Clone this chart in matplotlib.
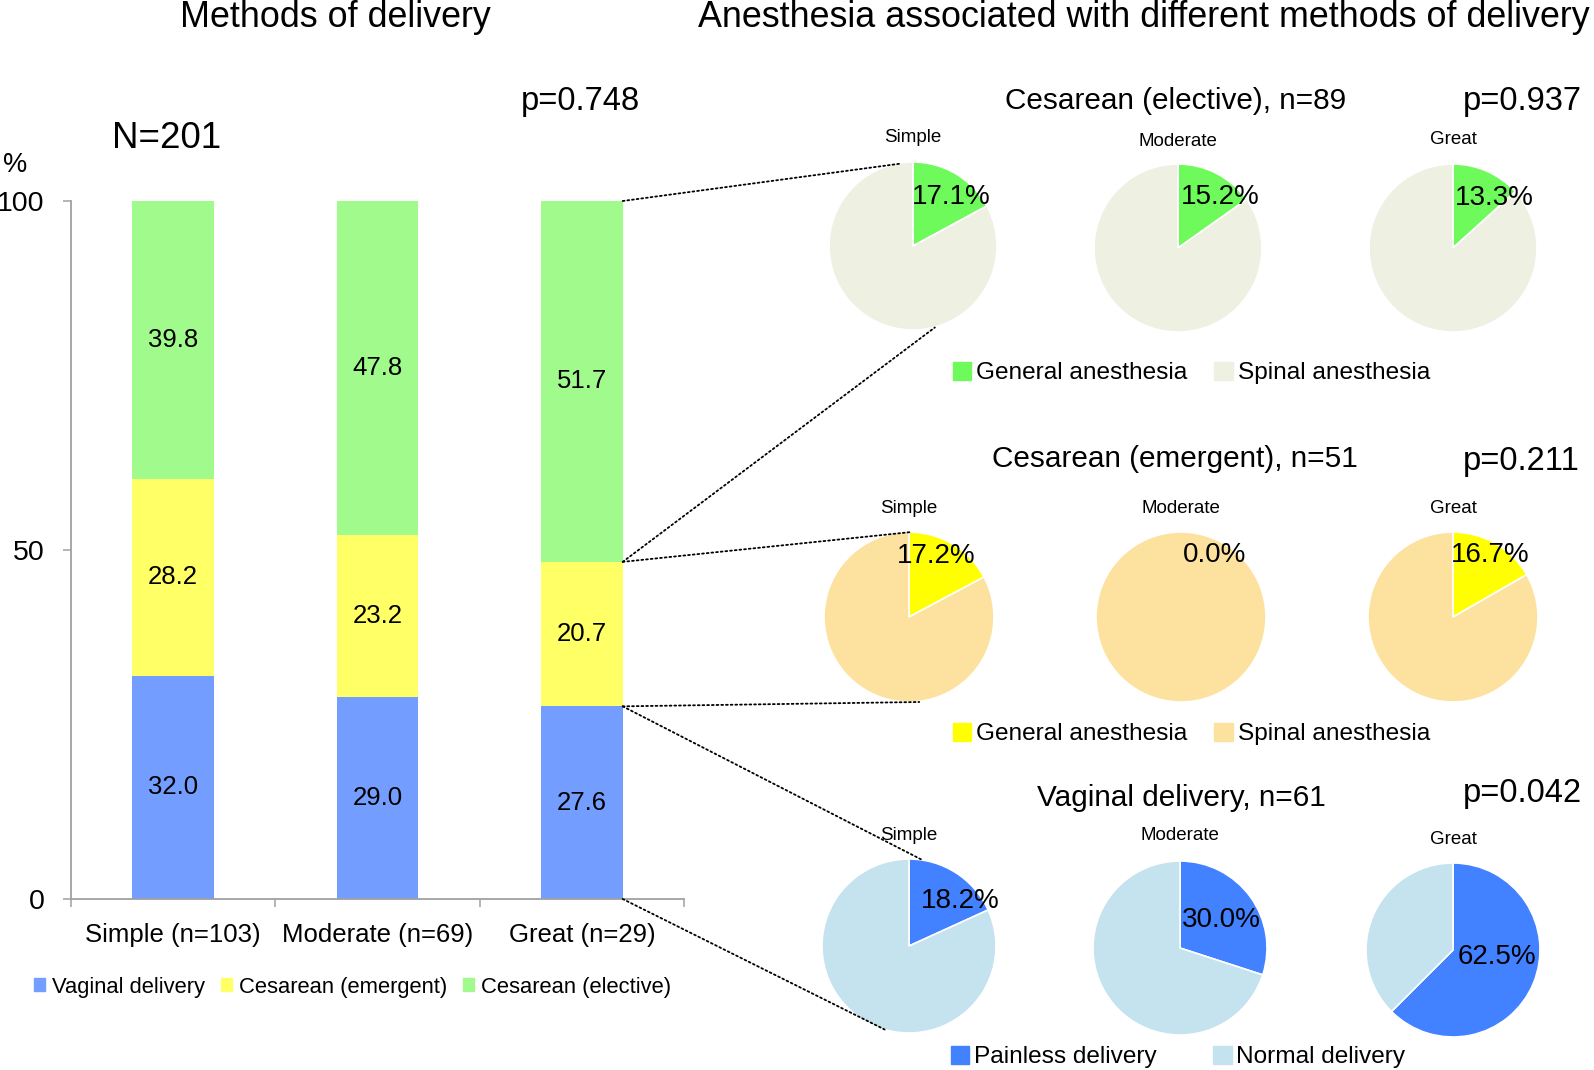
import numpy as np
import matplotlib.pyplot as plt
from matplotlib.patches import Patch, ConnectionPatch

plt.rcParams['font.family'] = ['Liberation Sans', 'DejaVu Sans']

# ---- data ----
groups = ['Simple (n=103)', 'Moderate (n=69)', 'Great (n=29)']
vaginal = [32.0, 29.0, 27.6]
emergent = [28.2, 23.2, 20.7]
elective = [39.8, 47.8, 51.7]
bar_legend = ['Vaginal delivery', 'Cesarean (emergent)', 'Cesarean (elective)']

pie_groups = ['Simple', 'Moderate', 'Great']
elective_general = [17.1, 15.2, 13.3]
emergent_general = [17.2, 0.0, 16.7]
vaginal_painless = [18.2, 30.0, 62.5]
pie_titles = ['Cesarean (elective), n=89', 'Cesarean (emergent), n=51', 'Vaginal delivery, n=61']
p_values = ['p=0.937', 'p=0.211', 'p=0.042']
pie_legends = [['General anesthesia', 'Spinal anesthesia'],
               ['General anesthesia', 'Spinal anesthesia'],
               ['Painless delivery', 'Normal delivery']]

# colours
bar_colors = ['#739EFF', '#FFFF66', '#A0FA8C']
pie_colors = [['#6FFA5C', '#EEF0E2'], ['#FFFF00', '#FDE29F'], ['#4281FF', '#C4E3EE']]

W, H = 1594, 1070
fx = lambda x: x / W
fy = lambda y: 1 - y / H

fig = plt.figure(figsize=(W / 100, H / 100), dpi=100)

# ---- stacked bars ----
ax = fig.add_axes([fx(71), fy(899), (684 - 71) / W, (899 - 201) / H])
pos = np.arange(len(groups))
width = 0.4
bottom = np.zeros(len(groups))
for vals, col in zip([vaginal, emergent, elective], bar_colors):
    vals = np.array(vals)
    ax.bar(pos, vals, width, bottom=bottom, color=col)
    for i, v in enumerate(vals):
        ax.text(pos[i], bottom[i] + v / 2, f'{v:.1f}', ha='center', va='center', fontsize=18.5)
    bottom += vals

ax.set_xlim(-0.5, 2.5)
ax.set_ylim(0, 100)
for s in ['top', 'right']:
    ax.spines[s].set_visible(False)
for s in ['left', 'bottom']:
    ax.spines[s].set_color('#A0A0A0')
    ax.spines[s].set_linewidth(1.3)
ax.set_yticks([0, 50, 100])
ax.tick_params(axis='y', length=6, width=1.1, color='#A0A0A0', labelsize=20.5, pad=13)
ax.set_xticks(pos)
ax.set_xticklabels(groups)
ax.set_xticks(np.arange(-0.5, 3, 1), minor=True)
ax.tick_params(axis='x', which='major', length=0, labelsize=18.5, pad=17)
ax.tick_params(axis='x', which='minor', length=6, width=1.1, color='#A0A0A0')
fig.text(fx(15), fy(165), '%', ha='center', va='center', fontsize=19.5)

fig.text(fx(335), fy(27), 'Methods of delivery', ha='center', va='baseline', fontsize=25.8)
fig.text(fx(1144), fy(27), 'Anesthesia associated with different methods of delivery',
         ha='center', va='baseline', fontsize=25.8)
fig.text(fx(167), fy(148), 'N=201', ha='center', va='baseline', fontsize=26.5)
fig.text(fx(580), fy(110), 'p=0.748', ha='center', va='baseline', fontsize=23.5)

fig.legend([Patch(color=c) for c in bar_colors], bar_legend, loc='center left',
           bbox_to_anchor=(fx(34), fy(987)), ncol=3, frameon=False, fontsize=15.8,
           handlelength=0.5, handleheight=0.5, handletextpad=0.3, columnspacing=0.75,
           borderpad=0, borderaxespad=0)

# ---- pies ----
pie_data = [elective_general, emergent_general, vaginal_painless]
centers = [[(913, 246), (1178, 248), (1453, 248)],
           [(909, 617), (1181, 617), (1453, 617)],
           [(909, 946), (1180, 948), (1453, 950)]]
radii = [84, 85, 87]
sub_title_y = [[138, 141, 139], [509, 509, 509], [836, 836, 840]]
label_xy = [[(0.46, 0.58), (0.5, 0.61), (0.49, 0.6)],
            [(0.32, 0.72), (0.4, 0.73), (0.44, 0.73)],
            [(0.59, 0.52), (0.48, 0.32), (0.5, -0.08)]]
title_pos = [(1176, 109), (1175, 467), (1181, 806)]
p_pos = [(1522, 110), (1521, 470), (1522, 802)]
legend_pos = [(953, 373), (953, 734), (951, 1057)]
legend_spacing = [1.1, 1.1, 2.3]
link_ends = [[(-0.155, 0.98), (0.26, -0.97)],
             [(0.03, 1.0), (0.12, -1.0)],
             [(0.15, 0.99), (-0.28, -0.96)]]
great_levels = [[100, vaginal[2] + emergent[2]], [vaginal[2] + emergent[2], vaginal[2]], [vaginal[2], 0]]

for r in range(3):
    rad = radii[r]
    for c in range(3):
        cx, cy = centers[r][c]
        pax = fig.add_axes([fx(cx - rad), fy(cy + rad), 2 * rad / W, 2 * rad / H])
        g = pie_data[r][c]
        pax.pie([g, 100 - g], colors=pie_colors[r], startangle=90, counterclock=False,
                wedgeprops=dict(edgecolor='white', linewidth=1.2))
        pax.set_xlim(-1, 1)
        pax.set_ylim(-1, 1)
        lx, ly = label_xy[r][c]
        pax.text(lx, ly, f'{g:.1f}%', ha='center', va='center', fontsize=20)
        fig.text(fx(cx), fy(sub_title_y[r][c]), pie_groups[c], ha='center', va='center', fontsize=13.5)
        if c == 0:
            for (ex, ey), lev in zip(link_ends[r], great_levels[r]):
                con = ConnectionPatch(xyA=(pos[2] + width / 2, lev), coordsA='data', axesA=ax,
                                      xyB=(ex, ey), coordsB='data', axesB=pax,
                                      color='black', linestyle=(0, (1, 1.6)), linewidth=1.3)
                fig.add_artist(con)
    tx, ty = title_pos[r]
    fig.text(fx(tx), fy(ty), pie_titles[r], ha='center', va='baseline', fontsize=21.4)
    px_, py_ = p_pos[r]
    fig.text(fx(px_), fy(py_), p_values[r], ha='center', va='baseline', fontsize=23.5)
    lgx, lgy = legend_pos[r]
    fig.legend([Patch(color=col) for col in pie_colors[r]], pie_legends[r], loc='center left',
               bbox_to_anchor=(fx(lgx), fy(lgy)), ncol=2, frameon=False, fontsize=17.6,
               handlelength=0.75, handleheight=0.75, handletextpad=0.2,
               columnspacing=legend_spacing[r], borderpad=0, borderaxespad=0)

fig.savefig('out.png', dpi=100)
